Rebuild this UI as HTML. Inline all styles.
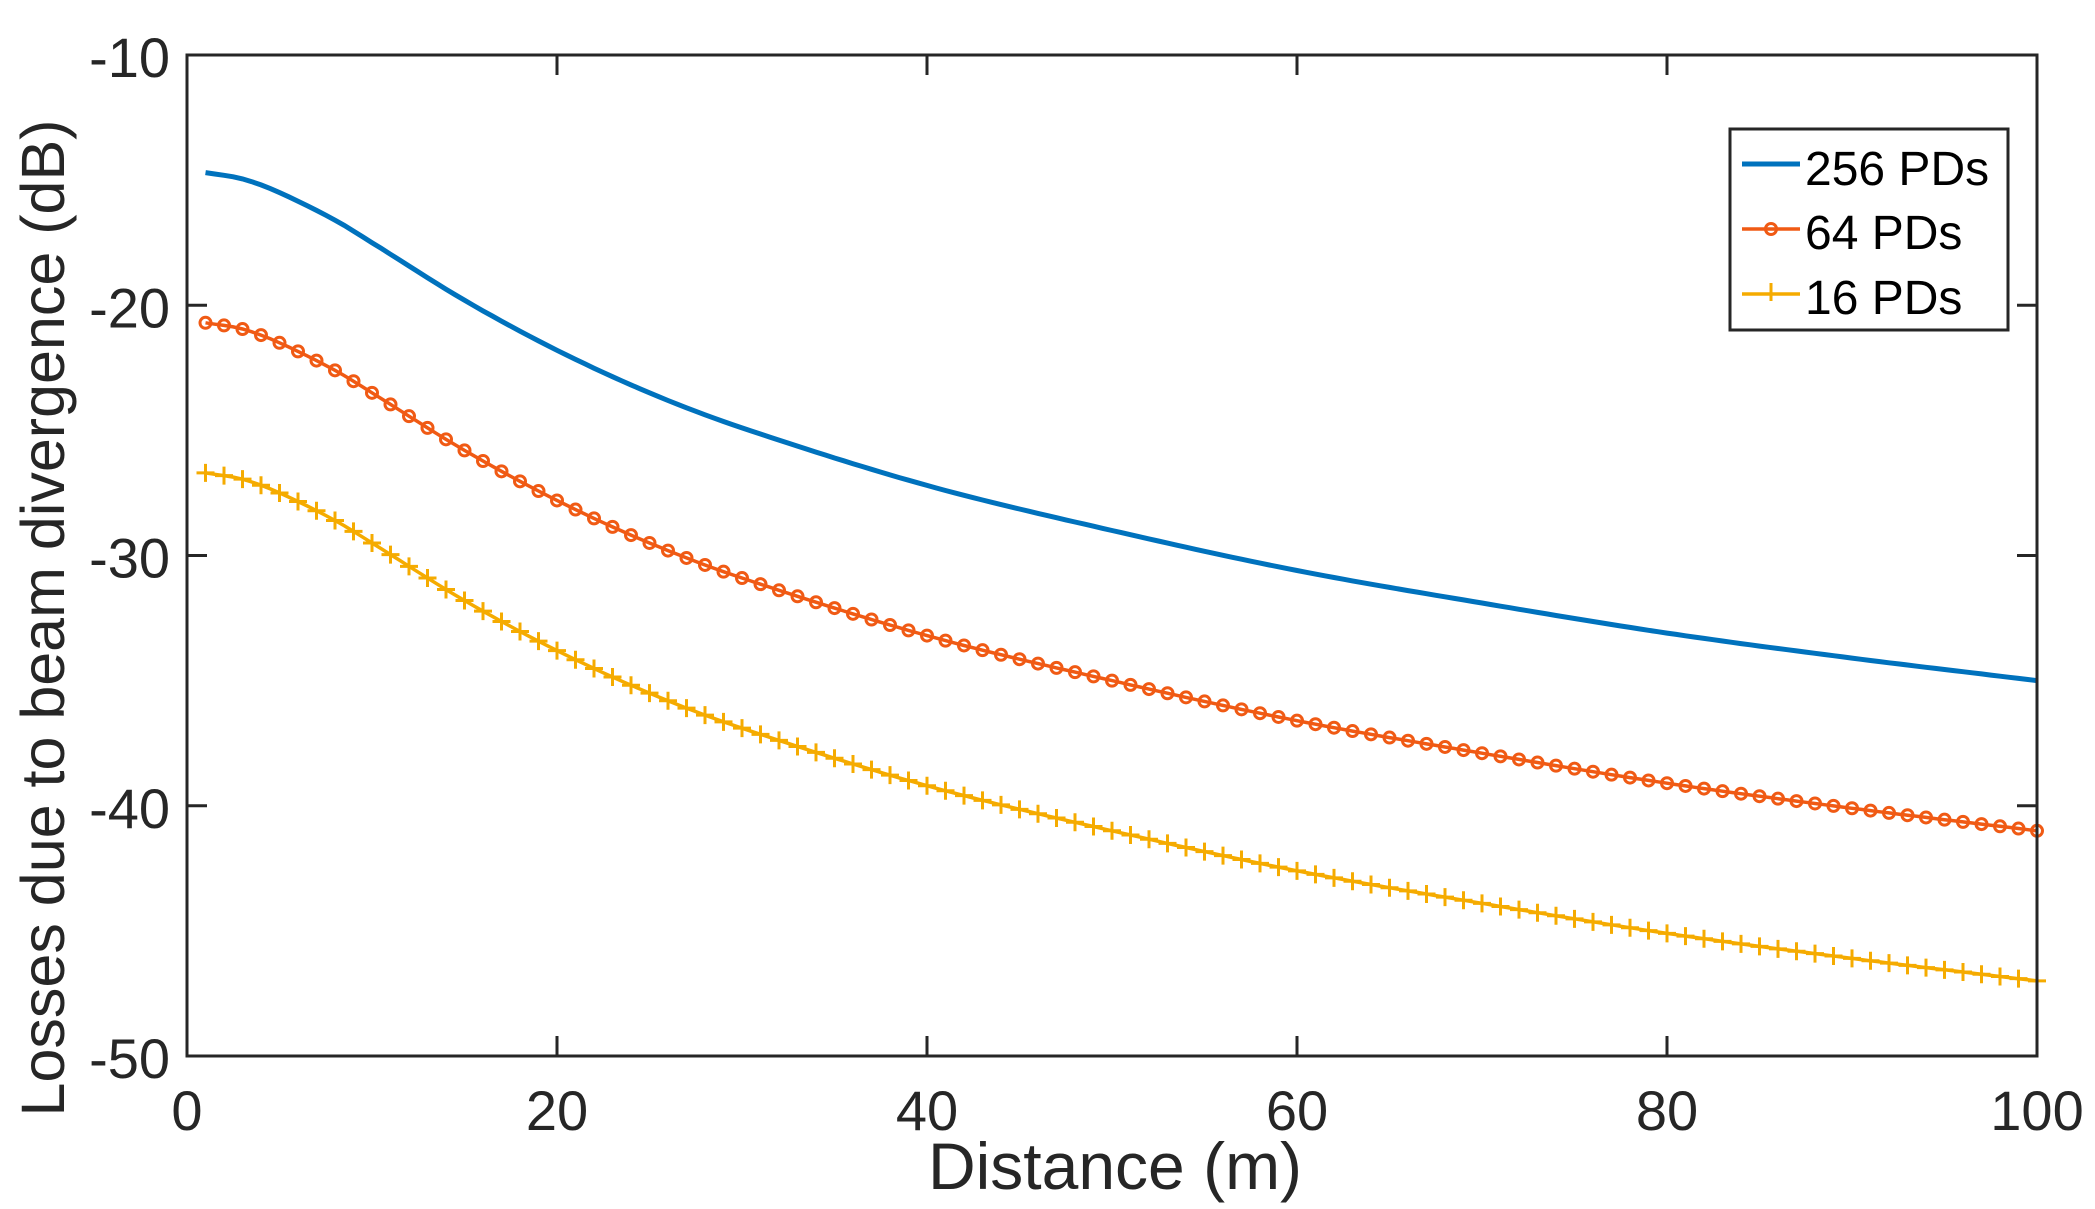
<!DOCTYPE html>
<html><head><meta charset="utf-8"><style>body{margin:0;background:#fff}svg{display:block}</style></head>
<body>
<svg id="s" width="2095" height="1209" xmlns="http://www.w3.org/2000/svg" font-family="Liberation Sans, Arial, sans-serif">
<rect width="2095" height="1209" fill="#fff"/>
<g id="plot"></g>
<rect x="187" y="55" width="1850" height="1001" fill="none" stroke="#262626" stroke-width="3"/>
<g id="ticks" stroke="#262626" stroke-width="3"></g>
<g fill="#262626" font-size="56" id="labels"></g>
<text x="1115" y="1189" font-size="66" fill="#262626" text-anchor="middle">Distance (m)</text>
<text transform="translate(64,618) rotate(-90)" font-size="61" fill="#262626" text-anchor="middle">Losses due to beam divergence (dB)</text>
<rect x="1730" y="129" width="278" height="201" fill="#fff" stroke="#262626" stroke-width="3"/>
<line x1="1742" y1="164" x2="1800" y2="164" stroke="#0072BD" stroke-width="5"/>
<line x1="1742" y1="229" x2="1800" y2="229" stroke="#F05A14" stroke-width="3.5"/>
<circle cx="1771" cy="229" r="5.5" fill="none" stroke="#F05A14" stroke-width="3"/>
<line x1="1742" y1="294" x2="1800" y2="294" stroke="#F5AB00" stroke-width="3.5"/>
<path d="M1771 283v18" stroke="#F5AB00" stroke-width="3"/>
<g font-size="48" fill="#000"><text x="1805" y="185">256 PDs</text><text x="1805" y="249">64 PDs</text><text x="1805" y="314">16 PDs</text></g>
</svg>
<script>
const X=x=>187+x*18.5, Y=y=>55+(-10-y)*25.025;
const k=[[1,-14.7],[3,-14.95],[5,-15.5],[8,-16.6],[10,-17.5],[15,-19.8],[20,-21.8],[25,-23.5],[30,-24.9],[40,-27.2],[50,-29.0],[60,-30.6],[70,-31.9],[80,-33.1],[90,-34.1],[100,-35.0]];
function f(x){let i=0;while(i<k.length-2&&x>k[i+1][0])i++;
const p0=k[Math.max(i-1,0)],p1=k[i],p2=k[i+1],p3=k[Math.min(i+2,k.length-1)];
const h=p2[0]-p1[0],t=(x-p1[0])/h;
const m1=(p2[1]-p0[1])/(p2[0]-p0[0])*h,m2=(p3[1]-p1[1])/(p3[0]-p1[0])*h;
const t2=t*t,t3=t2*t;return (2*t3-3*t2+1)*p1[1]+(t3-2*t2+t)*m1+(-2*t3+3*t2)*p2[1]+(t3-t2)*m2;}
function pts(o){let a=[];for(let x=1;x<=100;x+=0.5)a.push(X(x).toFixed(1)+','+Y(f(x)+o).toFixed(1));return a.join(' ');}
let p='';
p+=`<polyline points="${pts(0)}" fill="none" stroke="#0072BD" stroke-width="5"/>`;
p+=`<polyline points="${pts(-6)}" fill="none" stroke="#F05A14" stroke-width="3.5"/>`;
p+=`<polyline points="${pts(-12)}" fill="none" stroke="#F5AB00" stroke-width="3.5"/>`;
let m='';for(let x=1;x<=100;x++){const cx=X(x),c1=Y(f(x)-6),c2=Y(f(x)-12);
m+=`<circle cx="${cx}" cy="${c1}" r="5.5" fill="none" stroke="#F05A14" stroke-width="3"/>`;
m+=`<path d="M${cx-9} ${c2}h18M${cx} ${c2-9}v18" stroke="#F5AB00" stroke-width="3"/>`;}
document.getElementById('plot').innerHTML=p+m;
let t='',l='';
for(let v=0;v<=100;v+=20){const x=X(v);t+=`<line x1="${x}" y1="1056" x2="${x}" y2="1036"/><line x1="${x}" y1="55" x2="${x}" y2="75"/>`;l+=`<text x="${x}" y="1130" text-anchor="middle">${v}</text>`;}
for(let v=-10;v>=-50;v-=10){const y=Y(v);t+=`<line x1="187" y1="${y}" x2="207" y2="${y}"/><line x1="2037" y1="${y}" x2="2017" y2="${y}"/>`;l+=`<text x="170" y="${y+22}" text-anchor="end">${v}</text>`;}
document.getElementById('ticks').innerHTML=t;document.getElementById('labels').innerHTML=l;
</script>
</body></html>
